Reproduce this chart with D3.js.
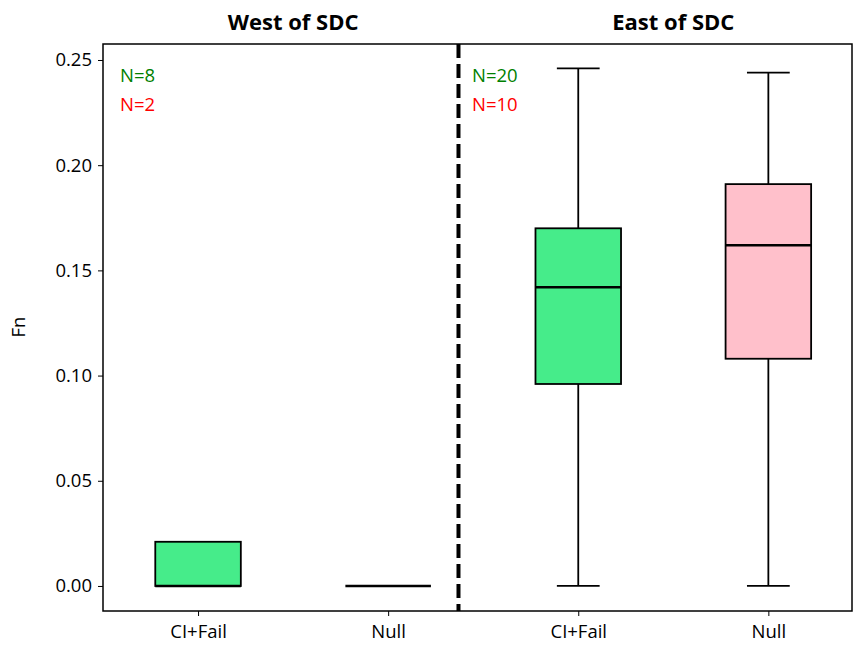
<!DOCTYPE html>
<html><head><meta charset="utf-8">
<script src="https://cdn.jsdelivr.net/npm/d3@7"></script>
<style>body{margin:0;background:#fff}text{font-family:"Open Sans",sans-serif}</style>
</head><body><svg></svg>
<script>
const categories = ["CI+Fail", "Null", "CI+Fail", "Null"]
const colors = ["#46ec8a", "#ffc0cb", "#46ec8a", "#ffc0cb"]
// [min, q1, median, q3, max]
const stats = [
  [0, 0, 0, 0.021, 0.021],
  [0, 0, 0, 0, 0],
  [0, 0.096, 0.142, 0.170, 0.246],
  [0, 0.108, 0.162, 0.191, 0.244]
]
const yTicks = [0, 0.05, 0.10, 0.15, 0.20, 0.25]
const panels = [{label: "West of SDC", pos: 1.5, n: ["N=8", "N=2"]}, {label: "East of SDC", pos: 3.5, n: ["N=20", "N=10"]}]

var svg = d3.select("svg").attr("width", 853).attr("height", 647)
var x = d3.scaleLinear().domain([0.5, 4.44]).range([103, 852])
var y = d3.scaleLinear().domain([-0.0119, 0.2576]).range([611, 44])
var bw = x(1.225) - x(0.775)

svg.append("g").attr("transform", "translate(103,0)")
  .call(d3.axisLeft(y).tickValues(yTicks).tickFormat(d3.format(".2f")).tickSize(5))
  .call(g => g.select(".domain").remove())
  .call(g => g.selectAll("text").style("font-size", "18.5px").attr("fill", "#000").attr("dx", "-3"))
svg.append("g").attr("transform", "translate(0,611)")
  .call(d3.axisBottom(x).tickValues([1, 2, 3, 4]).tickFormat((d, i) => categories[i]).tickSize(5))
  .call(g => g.select(".domain").remove())
  .call(g => g.selectAll("text").style("font-size", "18.5px").attr("fill", "#000").attr("dy", "1.05em"))
svg.append("rect").attr("x", 103).attr("y", 44).attr("width", 749).attr("height", 567)
  .attr("fill", "none").attr("stroke", "#000").attr("stroke-width", 1.5)

svg.append("text").attr("transform", "translate(25,327) rotate(-90)").attr("text-anchor", "middle")
  .style("font-size", "18.5px").text("Fn")

svg.append("line").attr("x1", x(2.37)).attr("x2", x(2.37)).attr("y1", 44).attr("y2", 611)
  .attr("stroke", "#000").attr("stroke-width", 4).attr("stroke-dasharray", "14,6")

var b = svg.selectAll(".box").data(stats).enter().append("g")
b.append("line").attr("x1", (d, i) => x(i + 1)).attr("x2", (d, i) => x(i + 1))
  .attr("y1", d => y(d[0])).attr("y2", d => y(d[4])).attr("stroke", "#000").attr("stroke-width", 1.8)
b.each(function (d, i) {
  [d[0], d[4]].forEach(v => d3.select(this).append("line")
    .attr("x1", x(i + 1) - bw / 4).attr("x2", x(i + 1) + bw / 4).attr("y1", y(v)).attr("y2", y(v))
    .attr("stroke", "#000").attr("stroke-width", 1.8))
})
b.append("rect").attr("x", (d, i) => x(i + 1) - bw / 2).attr("width", bw)
  .attr("y", d => y(d[3])).attr("height", d => y(d[1]) - y(d[3]))
  .attr("fill", (d, i) => colors[i]).attr("stroke", "#000").attr("stroke-width", 1.8)
b.append("line").attr("x1", (d, i) => x(i + 1) - bw / 2).attr("x2", (d, i) => x(i + 1) + bw / 2)
  .attr("y1", d => y(d[2])).attr("y2", d => y(d[2])).attr("stroke", "#000").attr("stroke-width", 2.5)

panels.forEach((p, k) => {
  svg.append("text").attr("x", x(p.pos)).attr("y", 30).attr("text-anchor", "middle")
    .style("font-size", "22px").style("font-weight", "bold").text(p.label)
  var nx = k === 0 ? 120 : 472
  svg.append("text").attr("x", nx).attr("y", 82).attr("fill", "green").style("font-size", "18.5px").text(p.n[0])
  svg.append("text").attr("x", nx).attr("y", 111).attr("fill", "red").style("font-size", "18.5px").text(p.n[1])
})
</script></body></html>
